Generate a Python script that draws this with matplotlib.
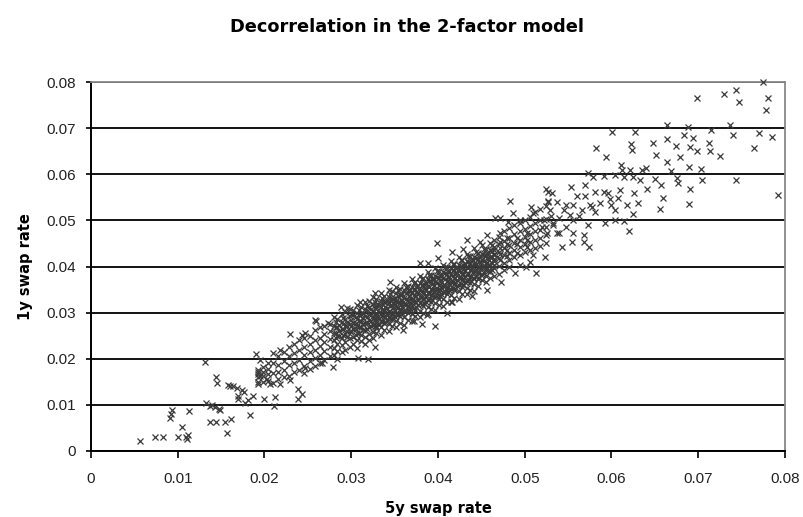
import matplotlib
matplotlib.use('Agg')
import matplotlib.pyplot as plt

plt.rcParams['font.family'] = ['Liberation Sans', 'DejaVu Sans']

# sparse points, lower left
low_x = [.0056, .0074, .0083, .0100, .0112, .0111, .0105, .0091, .0093, .0113, .0131, .0144, .0145, .0158, .0164,
         .0174, .0170, .0178, .0187, .0199, .0212, .0211, .0183, .0133, .0137, .0143, .0149, .0137, .0144, .0154,
         .0161, .0157, .0190, .0195, .0193, .0195, .0203, .0218, .0229, .0243, .0259, .0239, .0243, .0239, .0229,
         .0218, .0206, .0193, .0160, .0168, .0176, .0140, .0147, .0110, .0092, .0169, .0181]
low_y = [.0021, .0030, .0030, .0030, .0035, .0025, .0052, .0072, .0088, .0087, .0192, .0160, .0147, .0144, .0140,
         .0132, .0113, .0103, .0119, .0113, .0117, .0097, .0079, .0104, .0097, .0095, .0088, .0063, .0063, .0063,
         .0069, .0039, .0211, .0197, .0171, .0162, .0157, .0218, .0253, .0252, .0282, .0135, .0124, .0113, .0153,
         .0146, .0146, .0146, .0142, .0136, .0128, .0100, .0092, .0030, .0080, .0120, .0110]

# sparse points, upper right
high_x = [.0775, .0744, .0730, .0699, .0780, .0747, .0778, .0664, .0688, .0737, .0601, .0627, .0715, .0683, .0694,
          .0740, .0770, .0785, .0623, .0624, .0648, .0664, .0674, .0712, .0582, .0691, .0698, .0714, .0725, .0764,
          .0594, .0651, .0679, .0664, .0689, .0703, .0611, .0612, .0621, .0640, .0635, .0669, .0573, .0579, .0591,
          .0604, .0614, .0625, .0633, .0650, .0657, .0675, .0677, .0704, .0743, .0690, .0641, .0525, .0531, .0553,
          .0570, .0560, .0570, .0581, .0591, .0596, .0610, .0608, .0626, .0659, .0792, .0630, .0618, .0656, .0689,
          .0625, .0604, .0600, .0587, .0575, .0566, .0556, .0547, .0537, .0527, .0529, .0545, .0581, .0573, .0620,
          .0614, .0604, .0592, .0568, .0556, .0554, .0574, .0543, .0568, .0533, .0520, .0526, .0537, .0547, .0556,
          .0563, .0552, .0540, .0578, .0530, .0598]
high_y = [.0801, .0783, .0774, .0765, .0765, .0756, .0739, .0707, .0703, .0707, .0692, .0692, .0697, .0685, .0678,
          .0685, .0689, .0681, .0666, .0653, .0668, .0676, .0661, .0668, .0656, .0658, .0650, .0651, .0640, .0656,
          .0638, .0641, .0637, .0627, .0616, .0612, .0620, .0609, .0609, .0613, .0609, .0606, .0603, .0593, .0597,
          .0598, .0595, .0593, .0587, .0589, .0577, .0591, .0580, .0587, .0587, .0569, .0567, .0567, .0560, .0573,
          .0577, .0553, .0553, .0562, .0562, .0559, .0566, .0548, .0559, .0549, .0555, .0538, .0533, .0525, .0535,
          .0514, .0522, .0533, .0537, .0533, .0522, .0533, .0533, .0540, .0540, .0522, .0522, .0519, .0490, .0478,
          .0499, .0501, .0495, .0468, .0472, .0454, .0443, .0443, .0454, .0490, .0486, .0472, .0472, .0486, .0501,
          .0510, .0512, .0505, .0528, .0510, .0546]

# edge of the main cloud
edge_x = [.0483, .0487, .0507, .0527, .0527, .0472, .0466, .0481, .0495, .0510, .0522, .0533, .0539, .0399, .0433,
          .0416, .0379, .0389, .0400, .0429, .0456, .0472, .0448, .0523, .0510, .0502, .0513, .0489, .0473, .0456,
          .0439, .0416, .0410, .0387, .0396, .0381, .0372, .0360, .0327, .0319, .0308, .0279, .0266, .0247, .0345,
          .0327, .0310, .0288, .0295, .0258, .0273, .0247]
edge_y = [.0541, .0517, .0530, .0562, .0541, .0505, .0505, .0497, .0501, .0515, .0501, .0494, .0472, .0450, .0458,
          .0432, .0408, .0407, .0418, .0439, .0468, .0472, .0454, .0421, .0425, .0400, .0385, .0385, .0367, .0348,
          .0335, .0324, .0299, .0295, .0272, .0275, .0281, .0262, .0226, .0199, .0201, .0183, .0190, .0179, .0367,
          .0342, .0324, .0313, .0309, .0283, .0278, .0255]

# main cloud, one x with its y values per row
core_x = [.0192, .0198, .0204, .0210, .0216, .0222, .0228, .0234, .0240, .0246, .0252, .0258, .0264, .0269, .0275,
          .0280, .0284, .0289, .0293, .0298, .0302, .0307, .0311, .0316, .0320, .0325, .0329, .0334, .0338, .0343,
          .0347, .0352, .0356, .0361, .0365, .0370, .0374, .0379, .0383, .0388, .0392, .0397, .0401, .0406, .0410,
          .0415, .0419, .0424, .0428, .0433, .0437, .0442, .0446, .0451, .0455, .0460, .0465, .0470, .0476, .0482,
          .0488, .0494, .0500, .0506, .0512, .0518, .0524]
core_y = [
    [.0176, .0168, .0160, .0150], [.0182, .0172, .0162, .0150], [.0190, .0178, .0166, .0152],
    [.0212, .0190, .0170, .0148], [.0205, .0186, .0172, .0156], [.0215, .0196, .0176, .0160],
    [.0225, .0206, .0186, .0162], [.0232, .0212, .0190, .0172], [.0240, .0220, .0198, .0176],
    [.0245, .0226, .0208, .0184, .0170], [.0250, .0232, .0214, .0196, .0178], [.0262, .0240, .0220, .0202, .0184],
    [.0268, .0246, .0228, .0208, .0190], [.0272, .0254, .0236, .0216, .0198], [.0276, .0260, .0242, .0226, .0206],
    [.0290, .0272, .0256, .0240, .0224, .0208], [.0286, .0268, .0250, .0232, .0216, .0200],
    [.0296, .0280, .0264, .0246, .0230, .0214], [.0302, .0286, .0270, .0254, .0236, .0220],
    [.0308, .0292, .0276, .0260, .0244, .0226], [.0306, .0294, .0278, .0264, .0248, .0232],
    [.0316, .0300, .0286, .0272, .0256, .0240, .0224], [.0312, .0298, .0282, .0268, .0252, .0238],
    [.0322, .0308, .0292, .0278, .0262, .0248, .0232], [.0326, .0312, .0298, .0284, .0268, .0254, .0240],
    [.0334, .0318, .0302, .0288, .0274, .0258, .0244], [.0330, .0316, .0300, .0286, .0272, .0256],
    [.0342, .0326, .0312, .0298, .0282, .0268, .0252], [.0336, .0322, .0306, .0292, .0278, .0262],
    [.0350, .0334, .0320, .0304, .0290, .0276, .0260], [.0346, .0330, .0316, .0300, .0286, .0270],
    [.0356, .0342, .0326, .0312, .0296, .0282, .0268], [.0352, .0338, .0324, .0308, .0292, .0278],
    [.0364, .0348, .0332, .0318, .0304, .0290, .0274], [.0358, .0344, .0328, .0314, .0300, .0284],
    [.0372, .0356, .0342, .0326, .0312, .0296, .0282], [.0366, .0352, .0336, .0322, .0306, .0292],
    [.0380, .0364, .0350, .0334, .0320, .0304, .0290], [.0374, .0360, .0344, .0330, .0314, .0300],
    [.0388, .0372, .0358, .0342, .0328, .0312, .0298], [.0382, .0368, .0352, .0338, .0322, .0308],
    [.0396, .0380, .0366, .0350, .0336, .0320, .0306], [.0390, .0376, .0360, .0346, .0330, .0316],
    [.0404, .0388, .0374, .0358, .0344, .0330, .0314], [.0398, .0384, .0368, .0354, .0340, .0324],
    [.0412, .0396, .0382, .0366, .0352, .0338, .0322], [.0406, .0392, .0376, .0362, .0348, .0332],
    [.0420, .0404, .0390, .0374, .0360, .0346, .0330], [.0414, .0400, .0384, .0370, .0356, .0340],
    [.0428, .0412, .0398, .0382, .0368, .0354, .0340], [.0422, .0408, .0392, .0378, .0364, .0350],
    [.0440, .0420, .0406, .0390, .0376, .0362, .0346], [.0430, .0416, .0400, .0386, .0372, .0358],
    [.0446, .0428, .0414, .0398, .0384, .0370], [.0438, .0424, .0408, .0394, .0380, .0366],
    [.0452, .0436, .0420, .0404, .0390, .0374], [.0458, .0442, .0428, .0412, .0396, .0380],
    [.0464, .0448, .0432, .0418, .0402, .0384], [.0476, .0456, .0440, .0424, .0408, .0392],
    [.0484, .0462, .0446, .0430, .0414, .0398], [.0490, .0470, .0452, .0436, .0420],
    [.0494, .0476, .0458, .0442, .0426, .0404], [.0500, .0482, .0464, .0448, .0432],
    [.0508, .0488, .0470, .0454, .0436, .0410], [.0518, .0494, .0476, .0458, .0440],
    [.0524, .0500, .0480, .0462, .0444], [.0532, .0504, .0486, .0468, .0450]]

# solid middle of the cloud
fill_x = [.0282, .0291, .0300, .0309, .0318, .0327, .0336, .0345, .0354, .0363, .0372, .0381, .0390, .0399, .0408,
          .0417, .0426, .0435, .0444, .0453, .0462, .0471, .0480, .0491, .0503,
          .0286, .0305, .0323, .0341, .0359, .0377, .0395, .0413, .0431, .0449,
          .0332, .0350, .0368, .0386, .0404, .0422, .0440, .0458,
          .0295, .0314, .0328, .0339, .0348, .0357, .0366, .0375, .0384, .0393, .0402, .0411, .0420, .0429, .0438,
          .0447, .0456, .0465]
fill_y = [
    [.0280, .0268, .0256, .0244], [.0288, .0276, .0264, .0252], [.0298, .0285, .0272, .0259],
    [.0306, .0294, .0281, .0268, .0255], [.0315, .0303, .0290, .0277, .0264], [.0324, .0310, .0297, .0284, .0271],
    [.0332, .0319, .0305, .0292, .0279], [.0340, .0327, .0314, .0300, .0287], [.0348, .0335, .0322, .0309, .0295],
    [.0356, .0343, .0330, .0316, .0303], [.0365, .0352, .0339, .0325, .0311], [.0373, .0360, .0347, .0333, .0319],
    [.0381, .0368, .0355, .0341, .0328], [.0390, .0377, .0364, .0350, .0337], [.0398, .0385, .0372, .0358, .0345],
    [.0406, .0393, .0380, .0367, .0353], [.0414, .0401, .0388, .0374, .0361], [.0423, .0410, .0396, .0383, .0369],
    [.0431, .0418, .0405, .0391, .0378], [.0439, .0426, .0412, .0399, .0386], [.0446, .0433, .0420, .0407, .0393],
    [.0454, .0441, .0428, .0414], [.0462, .0449, .0436, .0423], [.0462, .0449, .0430], [.0472, .0458, .0442],
    [.0274, .0261, .0249], [.0291, .0278, .0265, .0252], [.0308, .0295, .0282, .0270], [.0325, .0311, .0298, .0285],
    [.0340, .0327, .0313, .0300], [.0357, .0343, .0330, .0316], [.0373, .0360, .0346, .0333],
    [.0390, .0377, .0363, .0350], [.0406, .0393, .0379, .0366], [.0423, .0409, .0396, .0382],
    [.0316, .0301, .0288, .0275], [.0332, .0318, .0305, .0291], [.0348, .0335, .0321, .0308],
    [.0365, .0351, .0338, .0324], [.0382, .0368, .0355, .0341], [.0398, .0385, .0371, .0358],
    [.0414, .0401, .0387, .0374], [.0430, .0417, .0403, .0390],
    [.0280, .0270, .0260, .0248], [.0300, .0288, .0276, .0262], [.0312, .0300, .0290, .0278, .0266],
    [.0322, .0312, .0302, .0290, .0280], [.0330, .0320, .0310, .0298, .0288], [.0338, .0328, .0318, .0306, .0296],
    [.0346, .0336, .0326, .0314, .0304], [.0355, .0345, .0335, .0322, .0312], [.0362, .0354, .0342, .0330, .0320],
    [.0372, .0362, .0350, .0338, .0328], [.0380, .0370, .0360, .0348, .0336], [.0388, .0378, .0368, .0356, .0344],
    [.0396, .0386, .0376, .0364, .0352], [.0404, .0394, .0384, .0372, .0360], [.0412, .0402, .0392, .0380, .0368],
    [.0420, .0410, .0400, .0388, .0376], [.0428, .0418, .0408, .0396], [.0436, .0426, .0416, .0404]]

y_ticks = [0, .01, .02, .03, .04, .05, .06, .07, .08]
x_ticks = [0, .01, .02, .03, .04, .05, .06, .07, .08]
tick_labels = ['0', '0.01', '0.02', '0.03', '0.04', '0.05', '0.06', '0.07', '0.08']

# expand the rows of the main cloud
all_x = low_x + high_x + edge_x
all_y = low_y + high_y + edge_y
for cx, ys in list(zip(core_x, core_y)) + list(zip(fill_x, fill_y)):
    for cy in ys:
        all_x.append(cx)
        all_y.append(cy)

fig = plt.figure(figsize=(8.04, 5.17), dpi=100)
ax = fig.add_axes([91 / 804, 1 - 451 / 517, 694 / 804, 369 / 517])

ax.plot(all_x, all_y, linestyle='none', marker='x', markersize=4.8, markeredgewidth=0.9,
        color='#3a3a3a', clip_on=False, zorder=3)

ax.set_xlim(0, .08)
ax.set_ylim(0, .08)
ax.set_xticks(x_ticks)
ax.set_xticklabels(tick_labels)
ax.set_yticks(y_ticks)
ax.set_yticklabels(tick_labels)
ax.tick_params(axis='x', length=5, width=1.2, color='black', labelsize=11, pad=10, labelcolor='#222222')
ax.tick_params(axis='y', length=3.6, width=1.2, color='black', labelsize=11, pad=7, labelcolor='#222222')
ax.yaxis.grid(True, color='black', linewidth=1.3)
ax.set_axisbelow(True)

ax.spines['left'].set_linewidth(1.4)
ax.spines['bottom'].set_linewidth(1.4)
ax.spines['top'].set_color('#888888')
ax.spines['right'].set_color('#888888')
ax.spines['top'].set_linewidth(1.3)
ax.spines['right'].set_linewidth(1.3)

# DejaVu bold is closer to the wide spacing of the original labels
fig.text(407 / 804, 1 - 27 / 517, 'Decorrelation in the 2-factor model', ha='center', va='center',
         fontsize=12.8, fontweight='bold', family='DejaVu Sans')
fig.text(438 / 804, 1 - 508 / 517, '5y swap rate', ha='center', va='center', fontsize=10.5, fontweight='bold',
         family='DejaVu Sans')
fig.text(26 / 804, 1 - 267 / 517, '1y swap rate', ha='center', va='center', rotation=90,
         fontsize=10.5, fontweight='bold', family='DejaVu Sans')

fig.savefig('out.png', dpi=100)
